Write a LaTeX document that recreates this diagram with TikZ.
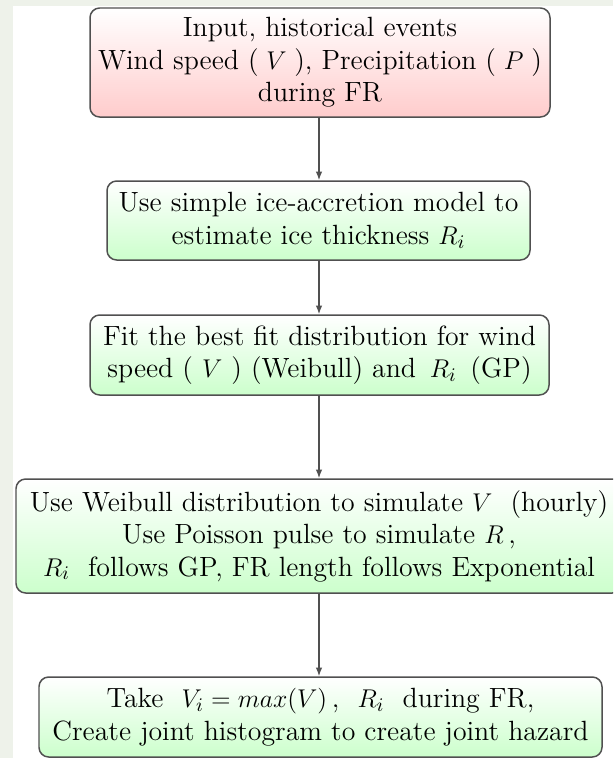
\documentclass[tikz,border=0pt]{standalone}
\usetikzlibrary{arrows.meta}
\newcommand\px{0.4672pt}
\definecolor{pagebg}{HTML}{EEF2EA}
\definecolor{boxline}{HTML}{505050}
\tikzset{
  flowbox/.style={draw=boxline, line width=0.7pt, rounded corners=4.5pt, align=center,
    inner sep=0pt, font=\fontsize{13}{15.2}\selectfont},
  redbox/.style={flowbox, top color=white, bottom color=red!20},
  greenbox/.style={flowbox, top color=white, bottom color=green!20},
  flowarrow/.style={draw=boxline, line width=0.6pt, -{Latex[length=4pt,width=3pt]}}
}
\begin{document}
\begin{tikzpicture}[x={(\px,0)}, y={(0,-\px)}]
\useasboundingbox (0,0) rectangle (613,758);
\fill[pagebg] (0,0) rectangle (613,758);
\fill[white] (13,6) rectangle (613,758);
\begin{scope}
\clip (0,0) rectangle (613,758);
\node[redbox, minimum width=460*\px, minimum height=109*\px] (n1) at (320,62.5)
  {Input, historical events\\ Wind speed (\;$V$\;), Precipitation (\;$P$\;)\\ during FR};
\node[greenbox, minimum width=423*\px, minimum height=79*\px] (n2) at (318.5,220.5)
  {Use simple ice-accretion model to\\ estimate ice thickness $R_i$};
\node[greenbox, minimum width=459*\px, minimum height=80*\px] (n3) at (319.5,355)
  {Fit the best fit distribution for wind\\ speed ( $V$ ) (Weibull) and \,$R_i$ \,(GP)};
\node[greenbox, minimum width=606*\px, minimum height=114*\px] (n4) at (319,536)
  {Use Weibull distribution to simulate $V$ \ (hourly)\\ Use Poisson pulse to simulate $R$\,,\\ $R_i$ \ follows GP, FR length follows Exponential};
\node[greenbox, minimum width=563*\px, minimum height=80*\px] (n5) at (320.5,717)
  {Take \ $V_i = max(V)$\,, \ $R_i$ \ during FR,\\ Create joint histogram to create joint hazard};
\end{scope}
\draw[flowarrow] (n1.south -| 319,0) -- (n2.north -| 319,0);
\draw[flowarrow] (n2.south -| 319,0) -- (n3.north -| 319,0);
\draw[flowarrow] (n3.south -| 319,0) -- (n4.north -| 319,0);
\draw[flowarrow] (n4.south -| 319,0) -- (n5.north -| 319,0);
\end{tikzpicture}
\end{document}
